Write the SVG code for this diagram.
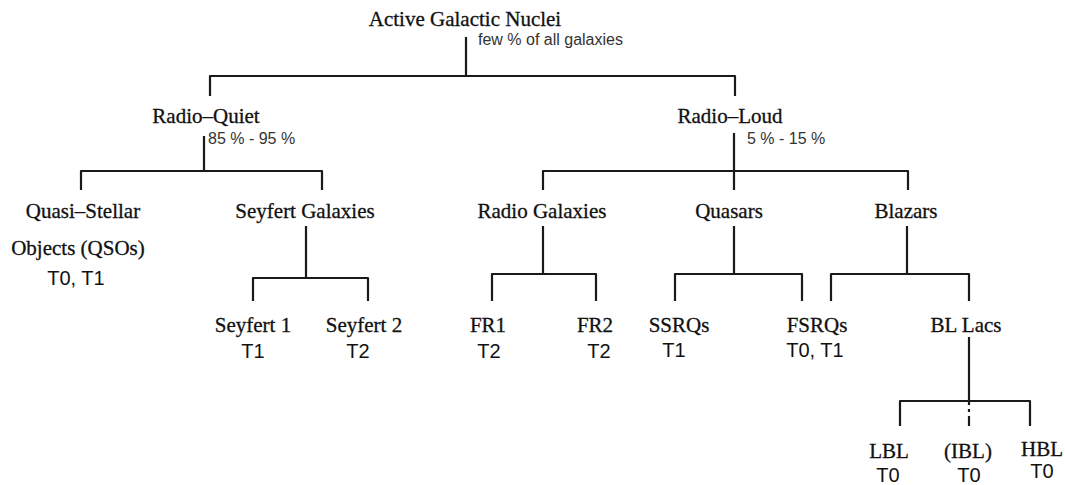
<svg xmlns="http://www.w3.org/2000/svg" width="1065" height="485" viewBox="0 0 1065 485">
<style>
.s{font-family:"Liberation Serif","Times New Roman",serif;font-size:21px;fill:#111;stroke:#111;stroke-width:0.3;text-anchor:middle}
.p{font-family:"Liberation Sans",Arial,sans-serif;font-size:16px;fill:#333}
.t{font-family:"Liberation Sans",Arial,sans-serif;font-size:20px;fill:#111;text-anchor:middle}
.c{fill:none;stroke:#1a1a1a;stroke-width:2.2;stroke-linejoin:round}
</style>
<rect width="1065" height="485" fill="#fff"/>
<g id="connectors">
<path class="c" d="M466 37V76M210 96V76H735V96"/>
<path class="c" d="M204 136V171M81 190V171H322V190"/>
<path class="c" d="M734 133V190M543 190V171H908V190"/>
<path class="c" d="M306 226V278M253 301V278H368V301"/>
<path class="c" d="M543 226V274M492 301V274H596V301"/>
<path class="c" d="M734 226V274M675 301V274H802V301"/>
<path class="c" d="M907 226V274M831 301V274H969V301"/>
<path class="c" d="M969 337V401M900 426V401H1030V426"/>
<path class="c" d="M969 401V405M969 409V412M969 416V426"/>
</g>
<g id="agn"><text class="s" x="465" y="26">Active Galactic Nuclei</text><text class="p" x="478" y="45">few % of all galaxies</text></g>
<g id="radio-quiet"><text class="s" x="206" y="123">Radio–Quiet</text><text class="p" x="208" y="144">85 % - 95 %</text></g>
<g id="radio-loud"><text class="s" x="730" y="123">Radio–Loud</text><text class="p" x="747" y="144">5 % - 15 %</text></g>
<g id="qso"><text class="s" x="83" y="218">Quasi–Stellar</text><text class="s" x="78" y="255">Objects (QSOs)</text><text class="t" x="76" y="285">T0, T1</text></g>
<g id="seyfert-galaxies"><text class="s" x="305" y="218">Seyfert Galaxies</text></g>
<g id="seyfert1"><text class="s" x="253" y="332">Seyfert 1</text><text class="t" x="253" y="358">T1</text></g>
<g id="seyfert2"><text class="s" x="364" y="332">Seyfert 2</text><text class="t" x="358" y="358">T2</text></g>
<g id="radio-galaxies"><text class="s" x="542" y="218">Radio Galaxies</text></g>
<g id="quasars"><text class="s" x="729" y="218">Quasars</text></g>
<g id="blazars"><text class="s" x="906" y="218">Blazars</text></g>
<g id="fr1"><text class="s" x="488" y="332">FR1</text><text class="t" x="489" y="358">T2</text></g>
<g id="fr2"><text class="s" x="595" y="332">FR2</text><text class="t" x="599" y="358">T2</text></g>
<g id="ssrqs"><text class="s" x="679" y="332">SSRQs</text><text class="t" x="674" y="357">T1</text></g>
<g id="fsrqs"><text class="s" x="817" y="332">FSRQs</text><text class="t" x="815" y="357">T0, T1</text></g>
<g id="bllacs"><text class="s" x="966" y="332">BL Lacs</text></g>
<g id="lbl"><text class="s" x="889" y="458">LBL</text><text class="t" x="888" y="482">T0</text></g>
<g id="ibl"><text class="s" x="968" y="458">(IBL)</text><text class="t" x="969" y="482">T0</text></g>
<g id="hbl"><text class="s" x="1042" y="456">HBL</text><text class="t" x="1042" y="478">T0</text></g>
</svg>
